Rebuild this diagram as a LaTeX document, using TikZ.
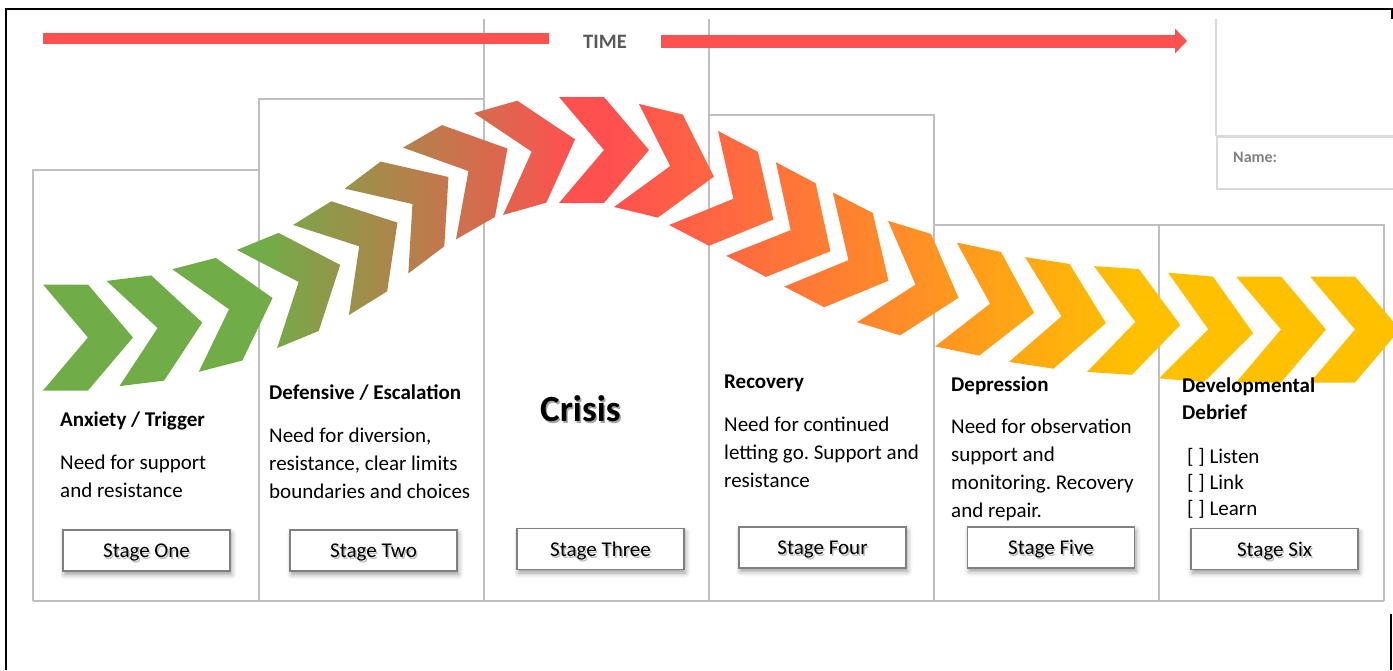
\documentclass[tikz,border=0pt]{standalone}
\usepackage{fontspec}
\setmainfont{Carlito}
\usetikzlibrary{arrows.meta,shadows.blur}
\frenchspacing

\definecolor{chevGreen}{HTML}{70AD47}
\definecolor{chevRed}{HTML}{FF5050}
\definecolor{chevOrange}{HTML}{FF8C28}
\definecolor{chevYellow}{HTML}{FFC000}
\definecolor{timeRed}{HTML}{FF5050}
\definecolor{boxGray}{HTML}{BFBFBF}

% one colour run for the whole row of chevrons (25bp..75bp = x 0..1400)
\pgfdeclarehorizontalshading{chevronband}{100bp}{color(0bp)=(chevGreen); color(34.3bp)=(chevGreen); color(45.4bp)=(chevRed); color(46.8bp)=(chevRed); color(57.1bp)=(chevOrange); color(65.4bp)=(chevYellow); color(100bp)=(chevYellow)}

\newcommand{\shadowed}[2][black!25]{\makebox[0pt][l]{\hspace{1.5pt}\raisebox{-2pt}{\textcolor{#1}{#2}}}#2}

\begin{document}
\begin{tikzpicture}
[x=1pt,y=-1pt,
  columnDecorate/.style={draw=boxGray,line width=1.5pt},
  nameDecorate/.style={draw=black!15,line width=1.5pt},
  timeDecorate/.style={draw=timeRed,line width=11pt},
  stageDecorate/.style={draw=black!50,line width=1.5pt,fill=white,
    minimum width=167pt,minimum height=41pt,inner sep=0pt,
    text height=14pt,text depth=0pt,
    font=\fontsize{21}{25}\selectfont,
    blur shadow={shadow xshift=1.5pt,shadow yshift=-3.5pt,
      shadow blur radius=5pt,shadow opacity=40}},
  headDecorate/.style={anchor=base west,inner sep=0pt,align=left,
    font=\fontsize{21}{27}\selectfont\bfseries},
  textDecorate/.style={anchor=base west,inner sep=0pt,align=left,
    font=\fontsize{21}{28}\selectfont}]
\useasboundingbox (0,0) rectangle (1393,670);
%% frame
\draw[line width=2pt] (6,670) -- (6,9) -- (1392,9) -- (1392,19);
\draw[line width=2pt] (1391,614) -- (1391,670);
%% columns
\foreach \xa/\xb/\top in {
  33/259/170, 259/484/99, 709/934/115, 934/1159/225, 1159/1384/225}
{
  \draw[columnDecorate] (\xa,601) -- (\xa,\top) -- (\xb,\top) -- (\xb,601);
}
\draw[columnDecorate] (484,19) -- (484,601) (709,19) -- (709,601);
\draw[columnDecorate] (33,601) -- (1384,601);
%% name box
\draw[nameDecorate] (1216,19) -- (1216,136);
\draw[nameDecorate,line width=3pt] (1216,136.5) -- (1400,136.5);
\draw[nameDecorate] (1217,138) -- (1217,189) -- (1400,189);
\node (name) at (1233,157) [anchor=west,inner sep=0pt,text=black!50,
  font=\fontsize{16}{18}\selectfont\bfseries] {Name:};
%% time arrow
\coordinate (t0) at (43,38.5);
\coordinate (t1) at (1187,41);
\node (time) at (605,42) [minimum width=112pt,inner sep=0pt,text=black!65,
  font=\fontsize{20.5}{24}\selectfont\bfseries] {TIME};
\draw[timeDecorate] (t0) -- (time.west |- t0);
\draw[timeDecorate,line width=13pt,-{Triangle[length=12pt,width=24pt]}]
  (time.east |- t1) -- (t1);
%% chevrons: back centre x/y and heading
\begin{scope}
  \clip \foreach \x/\y/\a in {
    43/337.5/0, 113/333.5/7, 185.5/320.5/14.5, 257/299/22.3,
    321/270/31.8, 376.5/231/36.9, 429.5/193.5/30, 488.5/164/15.9,
    559/150/0, 626.5/155.5/-13.6, 693.5/178/-27.5, 751/209/-28,
    808.5/239.5/-27.3, 872.5/271.5/-17, 946/294.5/-11.8, 1017/309.5/-8.7,
    1090.5/319/-3.8, 1163.5/325.5/-4.9, 1236/329.5/0, 1310/329.5/0}
  {
    (\x,\y) ++(\a+90:53pt) -- ++(\a:45pt) -- ++(\a-49.7:69.5pt)
    -- ++(\a-130.3:69.5pt) -- ++(\a+180:45pt) -- ++(\a+49.7:69.5pt) -- cycle
  };
  \shade[shading=chevronband] (0,80) rectangle (1400,400);
\end{scope}
%% stage boxes
\foreach \nodename/\nodelabel/\x/\y in {
  one/One/146.5/550.5, two/Two/373.5/550.5, three/Three/600.5/549,
  four/Four/822.5/547.5, five/Five/1051/547.5, six/Six/1274.5/549}
{
  \node (\nodename) at (\x,\y) [stageDecorate] {\shadowed{Stage \nodelabel}};
}
%% stage texts (a node sits on the baseline of its last line)
\node (h1) at (60,426) [headDecorate] {Anxiety / Trigger};
\node (b1) at (60,497) [textDecorate] {Need for support\\and resistance};
\node (h2) at (269,399) [headDecorate] {Defensive / Escalation};
\node (b2) at (269,498) [textDecorate]
  {Need for diversion,\\resistance, clear limits\\boundaries and choices};
\node (crisis) at (540,421) [anchor=base west,inner sep=0pt,
  font=\fontsize{37}{40}\selectfont\bfseries] {\shadowed[black!35]{Crisis}};
\node (h4) at (724,388) [headDecorate] {Recovery};
\node (b4) at (724,487) [textDecorate]
  {Need for continued\\letting go. Support and\\resistance};
\node (h5) at (951,391) [headDecorate] {Depression};
\node (b5) at (951,517) [textDecorate]
  {Need for observation\\support and\\monitoring. Recovery\\and repair.};
\node (h6) at (1182,419) [headDecorate] {Developmental\\Debrief};
\node (b6) at (1187,515) [textDecorate,font=\fontsize{21}{26}\selectfont]
  {{[ ]} Listen\\{[ ]} Link\\{[ ]} Learn};
\end{tikzpicture}
\end{document}
